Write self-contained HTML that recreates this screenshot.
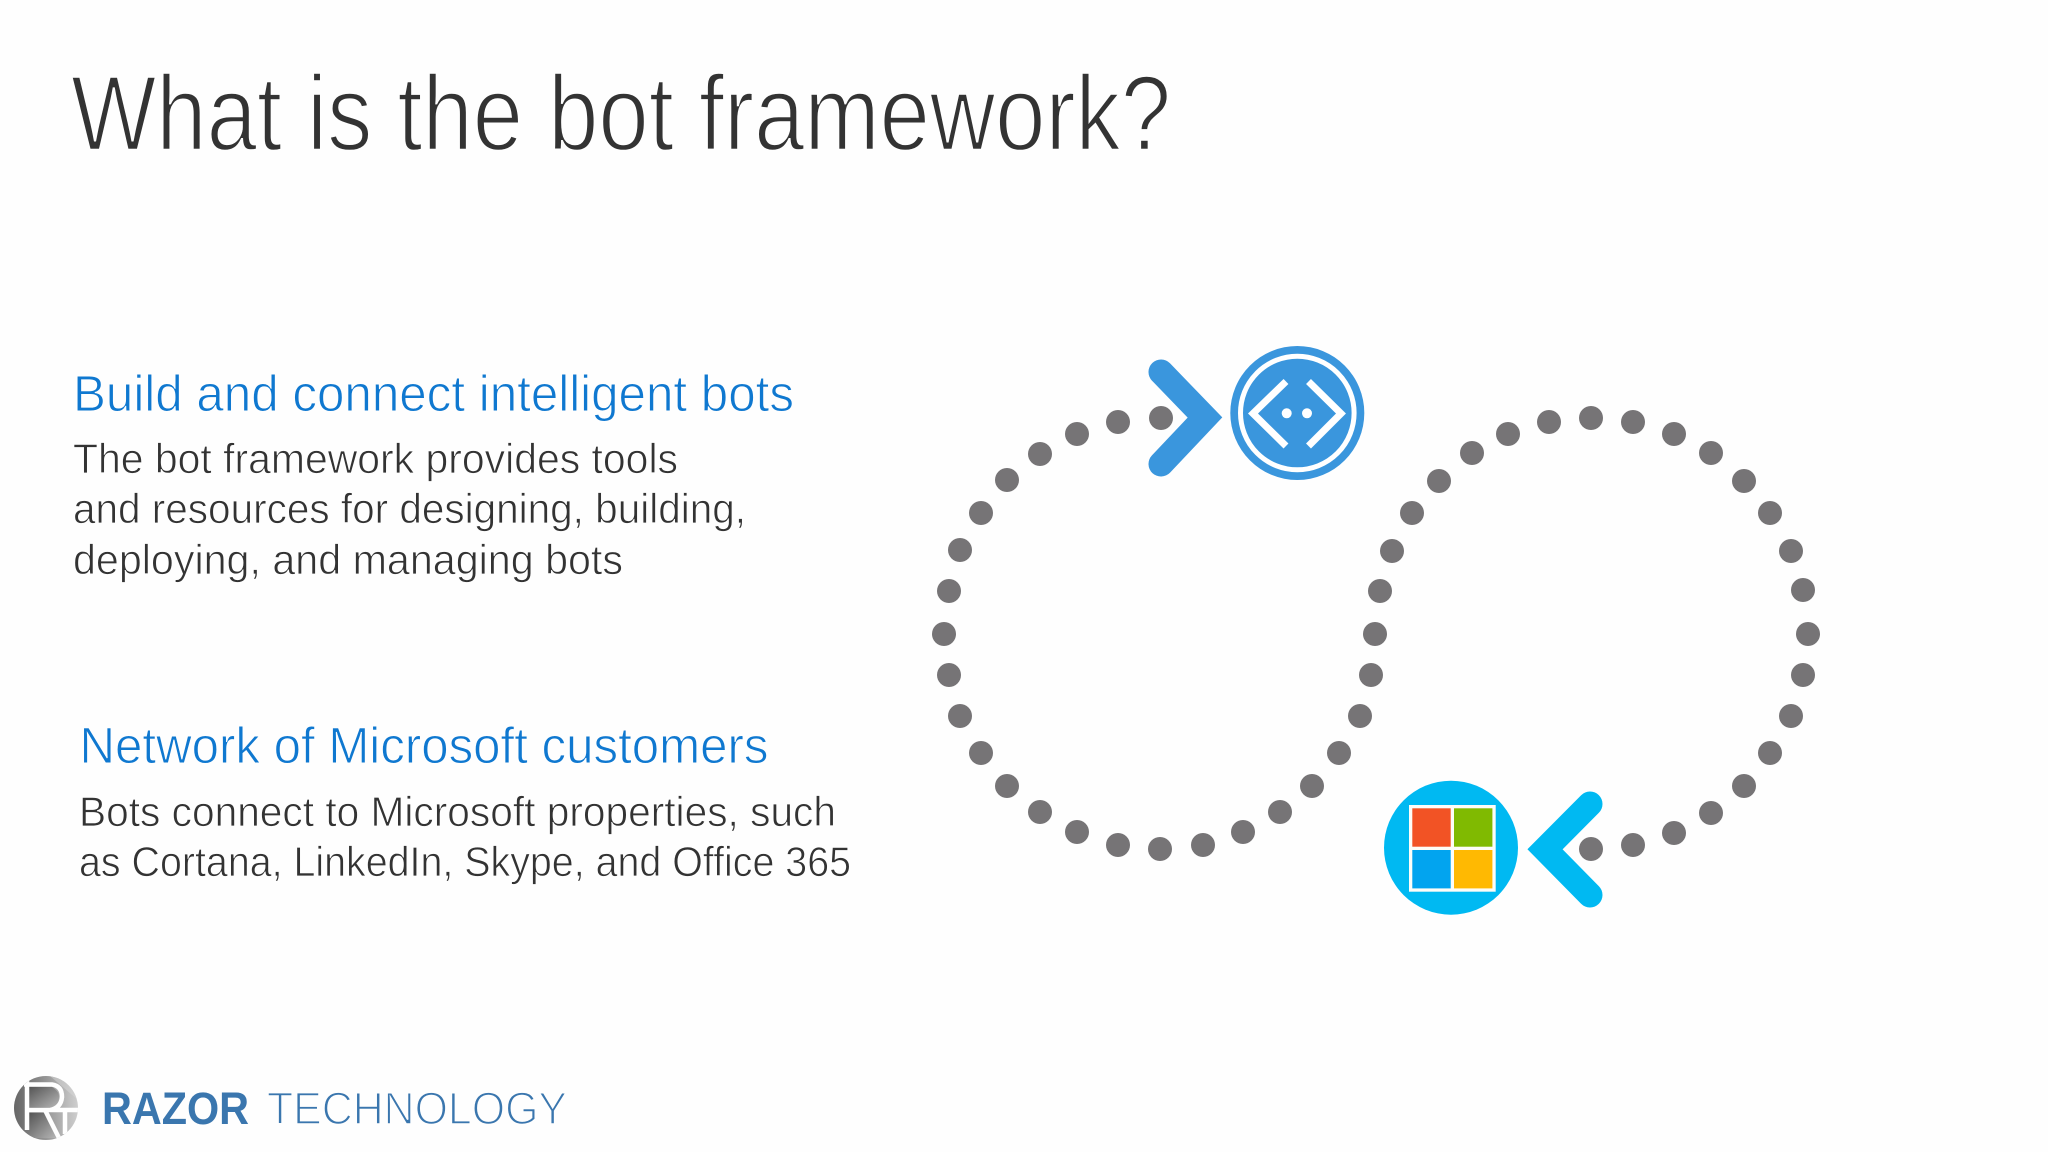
<!DOCTYPE html>
<html><head><meta charset="utf-8"><style>html,body{margin:0;padding:0;background:#fff}svg{display:block}text{font-family:"Liberation Sans",sans-serif}</style></head><body>
<svg width="2048" height="1152" viewBox="0 0 2048 1152" xmlns="http://www.w3.org/2000/svg">
<defs>
<linearGradient id="g1" x1="0" y1="0" x2="1" y2="0"><stop offset="0" stop-color="#666"/><stop offset="0.4" stop-color="#8a8a8a"/><stop offset="1" stop-color="#cfcfcf"/></linearGradient>
<linearGradient id="g2" x1="0" y1="0" x2="1" y2="1"><stop offset="0" stop-color="#555"/><stop offset="1" stop-color="#b5b5b5"/></linearGradient>
<clipPath id="lc"><circle cx="46" cy="1108" r="32"/></clipPath>
</defs>
<rect width="2048" height="1152" fill="#fefefe"/>
<g stroke="#fefefe" paint-order="fill">
<text x="71" y="150" font-size="107" fill="#333" stroke-width="2.4" textLength="1100" lengthAdjust="spacingAndGlyphs">What is the bot framework?</text>
<text x="73" y="411" font-size="51" fill="#0f78d0" stroke-width="1" textLength="721" lengthAdjust="spacingAndGlyphs">Build and connect intelligent bots</text>
<text x="73" y="473" font-size="42" fill="#333" stroke-width="0.8" textLength="605" lengthAdjust="spacingAndGlyphs">The bot framework provides tools</text>
<text x="73" y="523" font-size="42" fill="#333" stroke-width="0.8" textLength="673" lengthAdjust="spacingAndGlyphs">and resources for designing, building,</text>
<text x="73" y="574" font-size="42" fill="#333" stroke-width="0.8" textLength="550" lengthAdjust="spacingAndGlyphs">deploying, and managing bots</text>
<text x="79.5" y="763" font-size="51" fill="#0f78d0" stroke-width="1" textLength="689" lengthAdjust="spacingAndGlyphs">Network of Microsoft customers</text>
<text x="79" y="826" font-size="42" fill="#333" stroke-width="0.8" textLength="757" lengthAdjust="spacingAndGlyphs">Bots connect to Microsoft properties, such</text>
<text x="79" y="876" font-size="42" fill="#333" stroke-width="0.8" textLength="772" lengthAdjust="spacingAndGlyphs">as Cortana, LinkedIn, Skype, and Office 365</text>
</g>
<g fill="#767476">
<circle cx="1161" cy="418" r="12"/><circle cx="1118" cy="422" r="12"/><circle cx="1077" cy="434" r="12"/><circle cx="1040" cy="454" r="12"/><circle cx="1007" cy="480" r="12"/><circle cx="981" cy="513" r="12"/><circle cx="960" cy="550" r="12"/><circle cx="949" cy="591" r="12"/><circle cx="944" cy="634" r="12"/><circle cx="949" cy="675" r="12"/><circle cx="960" cy="716" r="12"/><circle cx="981" cy="753" r="12"/><circle cx="1007" cy="786" r="12"/><circle cx="1040" cy="812" r="12"/><circle cx="1077" cy="832" r="12"/><circle cx="1118" cy="845" r="12"/><circle cx="1160" cy="849" r="12"/><circle cx="1203" cy="845" r="12"/><circle cx="1243" cy="832" r="12"/><circle cx="1280" cy="812" r="12"/><circle cx="1312" cy="786" r="12"/><circle cx="1339" cy="753" r="12"/><circle cx="1360" cy="716" r="12"/><circle cx="1371" cy="675" r="12"/><circle cx="1375" cy="634" r="12"/><circle cx="1380" cy="591" r="12"/><circle cx="1392" cy="551" r="12"/><circle cx="1412" cy="513" r="12"/><circle cx="1439" cy="481" r="12"/><circle cx="1472" cy="453" r="12"/><circle cx="1508" cy="434" r="12"/><circle cx="1549" cy="422" r="12"/><circle cx="1591" cy="418" r="12"/><circle cx="1633" cy="422" r="12"/><circle cx="1674" cy="434" r="12"/><circle cx="1711" cy="453" r="12"/><circle cx="1744" cy="481" r="12"/><circle cx="1770" cy="513" r="12"/><circle cx="1791" cy="551" r="12"/><circle cx="1803" cy="590" r="12"/><circle cx="1808" cy="634" r="12"/><circle cx="1803" cy="675" r="12"/><circle cx="1791" cy="716" r="12"/><circle cx="1770" cy="753" r="12"/><circle cx="1744" cy="786" r="12"/><circle cx="1711" cy="813" r="12"/><circle cx="1674" cy="833" r="12"/><circle cx="1633" cy="845" r="12"/><circle cx="1591" cy="849" r="12"/>
</g>
<path d="M1161 372 L1205 417.5 L1161 464" fill="none" stroke="#3a96dd" stroke-width="25" stroke-linecap="round" stroke-linejoin="miter"/>
<circle cx="1297.3" cy="413" r="67" fill="#3a96dd"/>
<circle cx="1297.3" cy="413" r="56.8" fill="none" stroke="#fff" stroke-width="5"/>
<path d="M1286 381.5 L1253 413.5 L1286 446 M1308.5 381.5 L1341 413.5 L1308.5 446" fill="none" stroke="#fff" stroke-width="7"/>
<circle cx="1286.7" cy="413.3" r="5" fill="#fff"/><circle cx="1307" cy="413.3" r="5" fill="#fff"/>
<path d="M1590 804 L1545 849.3 L1590 895" fill="none" stroke="#00b9f2" stroke-width="25" stroke-linecap="round" stroke-linejoin="miter"/>
<circle cx="1451" cy="847.7" r="67" fill="#00b9f2"/>
<rect x="1409" y="805" width="86.7" height="86.7" fill="#fdfdf8"/>
<rect x="1412.3" y="808.3" width="38.4" height="38.4" fill="#f25325"/>
<rect x="1454" y="808.3" width="38.4" height="38.4" fill="#80ba01"/>
<rect x="1412.3" y="850" width="38.4" height="38.4" fill="#02a4ef"/>
<rect x="1454" y="850" width="38.4" height="38.4" fill="#ffb902"/>
<circle cx="46" cy="1108" r="32" fill="url(#g1)"/>
<g clip-path="url(#lc)">
<path d="M14 1076 H50 L78 1100 V1076Z" fill="#d8d8d8" opacity="0.5"/>
<path d="M29 1087 H52 Q60 1092 59 1098 Q58 1107 50 1107 H29Z" fill="url(#g2)"/>
<path d="M29 1113 H44 L56 1138 H29Z" fill="url(#g2)"/>
<path d="M27 1078 V1130 M24 1084.5 H52 Q62 1086 62 1097 Q61 1108 50 1110 H27 M45 1110 L59 1138 M65 1112 V1134 M48 1110 H80" fill="none" stroke="#fff" stroke-width="4.5"/>
</g>
<text x="102" y="1124" font-size="45" font-weight="bold" fill="#3a76ae" textLength="147" lengthAdjust="spacingAndGlyphs">RAZOR</text>
<text x="267" y="1124" font-size="45" fill="#3a76ae" stroke="#fefefe" stroke-width="1.6" textLength="300" lengthAdjust="spacingAndGlyphs">TECHNOLOGY</text>
</svg>
</body></html>
